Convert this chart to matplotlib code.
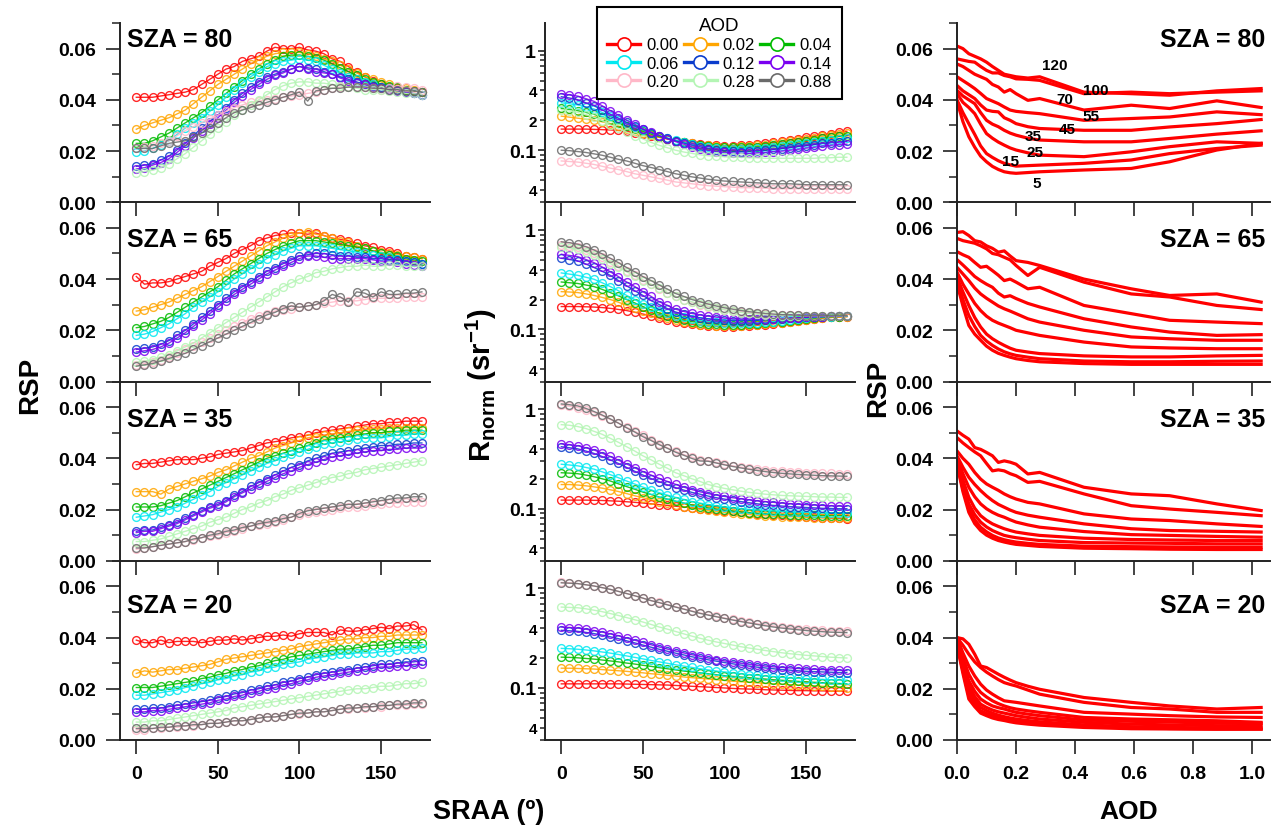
import numpy as np
import matplotlib
matplotlib.use("Agg")
import matplotlib.pyplot as plt
from matplotlib.lines import Line2D
from matplotlib.ticker import FixedLocator, FixedFormatter, FormatStrFormatter

plt.rcParams['font.family'] = ['Liberation Sans', 'DejaVu Sans']
plt.rcParams['font.weight'] = 'bold'
plt.rcParams['mathtext.fontset'] = 'custom'
plt.rcParams['mathtext.rm'] = 'Liberation Sans:bold'
plt.rcParams['mathtext.bf'] = 'Liberation Sans:bold'
plt.rcParams['mathtext.it'] = 'Liberation Sans:bold'

SZA = [80, 65, 35, 20]
AOD_LABELS = ["0.00", "0.02", "0.04", "0.06", "0.12", "0.14", "0.20", "0.28", "0.88"]
COLORS = ["#ff0000", "#ffa500", "#00bb00", "#00e8f0", "#0a3ccc",
          "#7a00f0", "#ffb8c8", "#b4f5b4", "#6a6a6a"]
SRAA = list(range(0, 180, 5))
AOD_GRID = [0, 0.02, 0.04, 0.06, 0.08, 0.10, 0.12, 0.14, 0.16, 0.18, 0.20,
            0.24, 0.28, 0.43, 0.59, 0.72, 0.88, 1.03]
SRAA_LINES = ["120", "100", "70", "55", "45", "35", "25", "15", "5"]

# RSP (x 1e-3) against SRAA, one row per AOD
RSP_80 = [
    [41, 41, 41, 41.5, 42, 42.5, 43, 44, 46, 48, 50, 52, 53, 55, 56, 57, 59, 60.5, 60, 60, 60.5, 59.5, 59, 58, 56, 55, 53, 51, 49, 47.5, 46, 45, 44.5, 44, 43.5, 43],
    [28.5, 30, 31, 32, 33, 34.5, 36, 38.5, 41, 43.5, 46, 48, 50, 52, 54, 55.5, 57, 58, 58.5, 58.5, 58.5, 58, 57, 56, 55, 53.5, 52, 50.5, 49, 48, 47, 46, 45, 44.5, 44, 43],
    [23, 23, 24, 25.5, 27, 29, 31, 33, 35, 37.5, 40, 42.5, 45, 47.5, 50, 52, 54, 55.5, 57, 57.5, 57.5, 57, 56.5, 55.5, 54, 52.5, 51, 49.5, 48, 47, 46, 45.5, 45, 44, 43.5, 43],
    [19.5, 20, 21, 22.5, 24, 26.5, 29, 31, 33, 35.5, 38, 41, 44, 46.5, 49, 51, 53, 54, 55, 55.5, 56, 55.5, 55, 53.5, 52, 50.5, 49, 48, 47, 46, 45, 44.5, 44, 43, 42.5, 42],
    [14, 14.5, 15, 16.5, 18, 20.5, 23, 26, 29, 31.5, 34, 37, 40, 42.5, 45, 47, 49, 50, 51, 52, 53, 52.5, 52, 51, 50, 49, 48, 47, 46, 45.5, 45, 44.5, 44, 43, 42.5, 42],
    [13, 13.5, 14.5, 15.5, 17, 19.5, 22, 25, 28, 30.5, 33, 36, 39, 41.5, 44, 46, 48, 49.5, 50.5, 52, 53, 52, 51, 50.5, 50, 48.5, 47.5, 46.5, 46, 45, 44.5, 44, 43.5, 43, 42.5, 42],
    [21, 21.5, 22, 23, 24, 26, 28, 29.5, 31, 32.5, 34, 35.5, 37, 38, 39, 39.5, 40, 40.5, 41, 41.5, 42, 42.5, 43, 44, 44.5, 45, 45, 45, 45, 44.5, 44, 44.5, 45.5, 45, 44.5, 44],
    [11.5, 12, 12.5, 13.5, 15, 17, 19, 21.5, 24, 26.5, 29, 31.5, 34, 36, 38, 40, 42, 44, 45.5, 46.5, 47, 47, 46.5, 46.5, 46, 45.5, 45, 44.5, 44, 44, 44, 43.5, 43, 42.5, 42.5, 42],
    [21, 21, 21, 22, 23, 23.5, 24, 25.5, 27, 29, 31, 33, 35, 36, 37, 38, 39, 40, 41, 42, 43, 39.5, 43.5, 44, 44.5, 44.5, 45, 45, 45, 44.5, 44.5, 44, 44, 43.5, 43.5, 43],
]
RSP_65 = [
    [41, 38, 38.5, 38.5, 39, 40, 41, 42, 43, 45, 46.5, 48, 50, 51.5, 53, 55, 56, 57, 57.5, 58, 58, 57.5, 58, 57, 56, 55.5, 55, 54, 53, 52.5, 51.5, 51, 50, 49, 48.5, 48],
    [27.5, 28, 29, 30, 31, 32.5, 34, 35.5, 37, 39, 41, 43, 45, 47, 49, 51, 53, 54.5, 56, 57, 58, 58.5, 57.5, 57, 56, 55, 54.5, 53, 52, 51, 50.5, 50, 49.5, 49, 48.5, 48],
    [21, 21.5, 22.5, 23.5, 25, 27, 29, 31, 33, 35, 37, 39.5, 42, 44, 46, 48, 50, 51.5, 53, 54, 55, 55, 55, 54.5, 54, 53.5, 53, 52.5, 52, 51, 50, 49.5, 49, 48, 47.5, 47],
    [18, 18.5, 19.5, 21, 22.5, 24.5, 26.5, 29, 31, 33, 35, 37.5, 40, 42, 44, 46, 48, 49.5, 51, 52, 53, 53, 53, 52.5, 52, 51.5, 51, 50.5, 50, 49.5, 49, 48.5, 48, 47, 46.5, 46],
    [12.5, 13, 13.5, 14.5, 16, 18, 20, 22.5, 25, 27.5, 30, 32.5, 35, 37, 39, 41, 43, 44.5, 46, 47.5, 49, 49.5, 50, 50, 49.5, 49, 49, 48.5, 48.5, 48, 48, 47.5, 47.5, 47, 46.5, 46],
    [11.5, 12, 12.5, 13.5, 15, 17, 19, 21.5, 24, 26.5, 29, 31.5, 34, 36, 38, 40, 42, 43.5, 45, 46.5, 48, 49, 49, 48.5, 48, 48, 48, 48, 48, 47.5, 47, 47, 46.5, 46, 45.5, 45],
    [6.5, 7, 7.5, 8.5, 9.5, 11, 12.5, 14, 15.5, 17, 18.5, 20, 21.5, 23, 24.5, 25.5, 26.5, 27.5, 28, 28.5, 29, 29.5, 30, 30.5, 31, 31.5, 31.5, 31.5, 32, 32.5, 32.5, 32.5, 32.5, 33, 33, 33],
    [7.5, 8, 8.5, 9.5, 10.5, 12, 13.5, 15, 17, 19, 21, 23, 25, 27, 29, 31, 33, 35, 37, 38.5, 40, 41, 42.5, 43, 44, 44.5, 45, 45, 45.5, 45, 45, 45.5, 45.5, 45, 45, 45],
    [6, 6.5, 7, 8, 9, 10, 11, 12.5, 14, 15.5, 17, 18.5, 20, 21.5, 23, 24.5, 26, 27, 28.5, 29.5, 29, 29.5, 30, 31.5, 34, 33, 31, 35, 34.5, 33, 35, 34, 34, 34.5, 34.5, 35],
]
RSP_35 = [
    [37.5, 38, 38, 38.5, 39, 39.5, 39.5, 39.5, 40, 40.5, 41.5, 42, 42.5, 43, 44, 45, 46, 46.5, 47, 48, 48.5, 49, 50, 50.5, 51, 51.5, 52, 52.5, 53, 53.5, 53.5, 54, 54, 54.5, 54.5, 54.5],
    [27, 27, 27, 26, 28, 29, 30, 31, 32, 33, 34.5, 35.5, 37, 38.5, 40, 41, 42.5, 44, 45, 46, 47, 48, 48.5, 49, 49.5, 50, 50.5, 51, 51, 51.5, 51.5, 52, 52, 52, 52, 52],
    [21, 21, 21, 21.5, 22.5, 23.5, 25, 26.5, 28, 29.5, 31, 32.5, 34, 35.5, 37, 38.5, 40, 41, 42, 43, 44, 45, 46, 47, 47.5, 48, 48.5, 49, 49.5, 50, 50, 50.5, 50.5, 51, 51, 51],
    [17, 17.5, 18, 19, 20, 21, 22.5, 24, 25.5, 27, 29, 30.5, 32, 33.5, 35, 36.5, 38, 39, 40.5, 41.5, 42.5, 43.5, 44.5, 45.5, 46, 46.5, 47, 47.5, 48, 48, 48, 48.5, 49, 49, 49.5, 49.5],
    [11.5, 12, 12, 13, 14, 15, 16.5, 18, 19.5, 21, 22, 23.5, 25.5, 27, 29, 30.5, 32, 33.5, 35, 36.5, 37.5, 39, 40, 41, 42, 42.5, 43, 43.5, 44, 44.5, 45, 45, 45.5, 45.5, 46, 46],
    [11, 11.5, 11.5, 12.5, 13.5, 14.5, 16, 17.5, 19, 20.5, 21.5, 23, 25, 26.5, 28, 29.5, 31, 32.5, 34, 35, 36.5, 37.5, 38.5, 39.5, 40.5, 41, 41.5, 42, 42.5, 43, 43, 43.5, 43.5, 44, 44, 44],
    [4.5, 5, 5.5, 6, 6.5, 7, 7.5, 8, 9, 9.5, 10, 11, 11.5, 12.5, 13.5, 14, 14.5, 15, 16, 17, 18, 18.5, 19, 19.5, 20, 20.5, 21, 21, 21.5, 22, 22, 22.5, 22.5, 23, 23, 23],
    [7.5, 7.5, 8, 8.5, 9.5, 10.5, 11.5, 12.5, 13.5, 15, 16, 17, 18.5, 20, 21, 22.5, 23.5, 25, 26, 27.5, 28.5, 29.5, 30.5, 31.5, 32.5, 33, 34, 34.5, 35.5, 36, 36.5, 37, 37.5, 38, 38.5, 39],
    [5, 5, 5.5, 6, 6.5, 7, 7.5, 8.5, 9, 10, 10.5, 11.5, 12, 13, 13.5, 14.5, 15, 15.5, 16.5, 17, 18.5, 19.5, 20, 20.5, 21, 21.5, 22, 22, 22.5, 23, 23.5, 24, 24.5, 24.5, 25, 25],
]
RSP_20 = [
    [39, 38, 38, 39, 38, 38.5, 38.5, 38.5, 38, 38.5, 39, 39, 39.5, 39, 39.5, 40, 40.5, 40.5, 41, 40.5, 41.5, 42, 42, 42, 41, 43, 42.5, 42.5, 43, 43.5, 44, 43.5, 44.5, 44.5, 45, 43],
    [26, 27, 26.5, 27, 27.5, 27.5, 28, 28.5, 29, 29.5, 30.5, 31.5, 32, 32.5, 33, 33.5, 34, 34.5, 35, 35.5, 36.5, 37, 37.5, 38, 38.5, 39, 39.5, 39.5, 40, 40, 40.5, 40.5, 41, 41, 41, 41],
    [20.5, 20.5, 20.5, 21, 21.5, 22, 22.5, 23, 24, 24.5, 25.5, 26, 27, 27.5, 28.5, 29, 30, 31, 31.5, 32.5, 33, 33.5, 34, 34.5, 35, 35.5, 35.5, 36, 36.5, 37, 37, 37.5, 38, 38, 38, 38],
    [17.5, 17.5, 18, 18.5, 19, 19.5, 20.5, 21, 22, 22.5, 23.5, 24, 25, 25.5, 26.5, 27, 28, 28.5, 29.5, 30, 30.5, 31.5, 32, 32.5, 33, 33.5, 33.5, 34, 34, 34, 34.5, 34.5, 35, 35.5, 35.5, 36],
    [12, 12, 12.5, 12.5, 13, 13.5, 14, 14.5, 15, 15.5, 16.5, 17, 18, 18.5, 19.5, 20, 21, 21.5, 22.5, 23, 24, 24.5, 25.5, 26, 26.5, 27, 27.5, 28, 28.5, 29, 29.5, 29.5, 30, 30.5, 30.5, 31],
    [11, 11, 11.5, 11.5, 12, 12.5, 13, 13.5, 14, 14.5, 15.5, 16, 17, 17.5, 18.5, 19, 20, 20.5, 21.5, 22, 23, 23.5, 24.5, 25, 25.5, 26, 26.5, 27, 27.5, 28, 28.5, 28.5, 29, 29, 29.5, 29.5],
    [4, 4, 4.5, 4.5, 5, 5, 5.5, 5.5, 6, 6.5, 6.5, 7, 7.5, 7.5, 8, 8.5, 9, 9, 9.5, 10, 10, 10.5, 11, 11, 11.5, 12, 12, 12.5, 12.5, 13, 13, 13.5, 13.5, 13.5, 14, 14],
    [7, 7, 7.5, 7.5, 8, 8.5, 9, 9.5, 10, 10.5, 11, 11.5, 12.5, 13, 13.5, 14, 14.5, 15, 15.5, 16, 16.5, 17, 17.5, 18, 18.5, 19, 19.5, 20, 20, 20.5, 21, 21, 21.5, 22, 22, 22.5],
    [4.5, 4.5, 4.5, 5, 5, 5.5, 5.5, 6, 6, 6.5, 6.5, 7, 7.5, 7.5, 8, 8.5, 9, 9, 9.5, 10, 10.5, 10.5, 11, 11, 11.5, 12, 12.5, 12.5, 13, 13, 13.5, 13.5, 14, 14, 14.5, 14.5],
]

# normalised reflectance (x 1e-3 sr-1) against SRAA, one row per AOD
RN_80 = [
    [163, 163, 163, 163, 162, 161, 160, 158, 155, 150, 145, 140, 135, 130, 125, 121, 118, 115, 113, 112, 111, 111, 112, 113, 115, 117, 120, 123, 127, 131, 135, 139, 143, 147, 151, 155],
    [220, 215, 210, 205, 200, 193, 185, 175, 165, 157, 150, 142, 135, 130, 125, 121, 117, 114, 112, 110, 109, 109, 110, 111, 112, 114, 117, 120, 123, 126, 130, 134, 138, 141, 145, 148],
    [263, 257, 250, 240, 230, 215, 200, 187, 175, 165, 155, 145, 137, 131, 125, 120, 115, 112, 110, 108, 107, 107, 107, 108, 109, 111, 113, 115, 118, 121, 125, 128, 132, 135, 138, 140],
    [300, 293, 285, 273, 260, 240, 220, 202, 185, 172, 160, 150, 140, 133, 126, 120, 115, 111, 108, 106, 104, 103, 103, 104, 105, 106, 108, 110, 112, 115, 118, 121, 124, 127, 130, 132],
    [345, 335, 322, 300, 280, 255, 230, 210, 190, 175, 162, 150, 140, 132, 124, 118, 112, 108, 104, 101, 99, 98, 97, 98, 99, 100, 102, 104, 106, 109, 111, 114, 117, 119, 121, 123],
    [370, 360, 350, 330, 310, 280, 250, 225, 200, 182, 165, 152, 140, 130, 122, 115, 108, 104, 100, 97, 95, 94, 93, 93, 94, 95, 97, 98, 100, 102, 105, 107, 110, 112, 114, 115],
    [78, 77, 76, 74, 72, 69, 66, 64, 61, 58, 56, 54, 52, 50, 48, 47, 46, 45, 44, 43.5, 43, 42.5, 42, 42, 42, 41.5, 41, 41, 41, 41, 41, 41, 41, 41, 41, 41],
    [255, 248, 240, 228, 215, 198, 180, 166, 152, 140, 130, 120, 112, 106, 100, 96, 93, 90, 88, 87, 86, 85, 85, 84, 84, 83, 83, 83, 83, 83, 83, 83, 84, 84, 85, 85],
    [100, 99, 97, 95, 92, 89, 85, 81, 78, 74, 70, 67, 64, 61, 58, 56, 54, 52.5, 51, 50, 49, 48.5, 48, 47.5, 47, 46.5, 46, 46, 46, 45.5, 45, 45, 45, 45, 45, 45],
]
RN_65 = [
    [170, 170, 170, 169, 168, 166, 163, 159, 155, 149, 143, 137, 130, 125, 120, 116, 113, 111, 109, 108, 107, 107, 108, 109, 110, 112, 114, 116, 119, 121, 124, 127, 130, 132, 134, 135],
    [240, 238, 235, 228, 220, 210, 200, 188, 175, 165, 155, 145, 137, 130, 124, 119, 115, 112, 110, 109, 108, 108, 109, 110, 111, 113, 115, 117, 120, 122, 125, 127, 130, 132, 133, 134],
    [300, 295, 290, 280, 270, 253, 235, 218, 200, 185, 170, 157, 146, 137, 130, 124, 120, 117, 114, 113, 112, 112, 112, 113, 114, 116, 118, 120, 123, 125, 128, 130, 132, 134, 135, 136],
    [370, 360, 350, 335, 320, 295, 270, 245, 220, 200, 180, 167, 155, 146, 138, 132, 127, 123, 120, 118, 117, 116, 116, 116, 117, 118, 120, 122, 125, 127, 130, 132, 134, 135, 136, 137],
    [520, 505, 490, 455, 420, 385, 350, 310, 275, 245, 220, 195, 178, 162, 150, 142, 136, 131, 128, 126, 124, 123, 123, 123, 124, 125, 126, 128, 129, 131, 132, 134, 135, 136, 137, 138],
    [570, 555, 540, 505, 470, 425, 380, 340, 300, 270, 240, 215, 190, 175, 160, 152, 145, 140, 136, 133, 130, 128, 127, 127, 127, 127, 128, 129, 130, 131, 133, 134, 135, 136, 137, 138],
    [700, 685, 670, 630, 590, 535, 480, 435, 390, 350, 315, 285, 258, 235, 215, 200, 188, 178, 170, 164, 158, 153, 150, 147, 145, 143, 141, 140, 139, 139, 138, 138, 138, 138, 138, 138],
    [680, 660, 640, 600, 560, 510, 460, 420, 380, 345, 310, 285, 260, 235, 215, 200, 190, 180, 172, 165, 158, 153, 148, 145, 142, 140, 139, 138, 138, 138, 138, 138, 138, 138, 138, 138],
    [760, 745, 720, 680, 630, 575, 520, 470, 420, 380, 340, 310, 280, 255, 230, 215, 200, 190, 180, 172, 165, 160, 155, 151, 148, 145, 143, 141, 140, 139, 138, 138, 138, 138, 138, 138],
]
RN_35 = [
    [122, 122, 122, 122, 121.5, 121, 120, 119, 117.5, 116, 114, 112, 110, 108, 106, 104, 102, 100, 98.5, 97, 95.5, 94, 92.5, 91, 89.5, 88, 87, 86, 85, 84, 83, 82, 81.5, 80.5, 80, 79],
    [175, 175, 173, 170, 166, 161, 155, 149, 142, 135, 129, 123, 118, 113, 109, 105, 102, 99, 96, 94, 92, 90.5, 89, 87.5, 86, 85, 84, 83.5, 83, 82.5, 82, 81.5, 81, 81, 81, 81],
    [230, 228, 225, 218, 210, 200, 190, 178, 167, 157, 147, 139, 131, 125, 119, 114, 109, 105, 102, 99.5, 97, 95, 93, 91.5, 90, 89, 88, 87.5, 87, 86.5, 86, 85.5, 85, 85, 85, 85],
    [280, 275, 270, 260, 250, 235, 220, 205, 190, 177, 165, 155, 145, 137, 130, 124, 118, 114, 110, 107, 104, 102, 100, 98.5, 97, 96, 95, 94, 93, 92.5, 92, 91.5, 91, 91, 91, 91],
    [420, 410, 400, 380, 360, 335, 310, 285, 260, 238, 218, 201, 187, 174, 163, 154, 146, 140, 134, 129, 125, 121, 118, 115, 112, 110, 108, 106.5, 105, 104, 103, 102, 101, 100.5, 100, 100],
    [450, 440, 430, 410, 390, 362, 335, 308, 282, 258, 236, 218, 202, 188, 176, 165, 156, 148, 142, 137, 133, 129, 126, 123, 120, 118, 116, 114, 112.5, 111, 110, 109, 108, 107, 106.5, 106],
    [1100, 1070, 1040, 990, 930, 860, 790, 725, 660, 600, 545, 495, 450, 410, 380, 350, 330, 310, 305, 292, 280, 270, 262, 255, 249, 244, 240, 237, 234, 232, 230, 228, 227, 226, 225, 225],
    [700, 690, 670, 640, 600, 560, 510, 465, 420, 380, 340, 310, 280, 255, 230, 215, 200, 188, 175, 167, 160, 155, 150, 146, 143, 140, 138, 136, 135, 134, 133, 132, 131, 131, 130, 130],
    [1130, 1110, 1080, 1020, 950, 875, 800, 725, 650, 590, 530, 485, 440, 405, 370, 345, 320, 302, 300, 288, 276, 266, 257, 249, 242, 236, 231, 227, 224, 221, 219, 217, 215, 214, 213, 212],
]
RN_20 = [
    [110, 110, 110, 110, 110, 110, 110, 110, 109.5, 109, 108.5, 108, 107.5, 107, 106, 105, 104, 103, 102, 101, 100, 99, 98, 97.5, 97, 96, 95.5, 95, 94.5, 94, 94, 93.5, 93.5, 93, 93, 93],
    [158, 158, 157, 156, 155, 153, 151, 149, 147, 144, 142, 139, 137, 134, 132, 129, 127, 125, 123, 121, 119, 117, 115.5, 114, 112.5, 111, 110, 109, 108, 107, 106, 105, 104, 103, 102, 101],
    [204, 203, 201, 198, 195, 191, 187, 183, 178, 174, 169, 165, 160, 156, 152, 148, 145, 142, 139, 136, 133, 131, 129, 127, 125, 123, 121, 119.5, 118, 116.5, 115, 114, 113, 112, 111, 110],
    [250, 248, 245, 241, 236, 230, 224, 217, 210, 203, 196, 189, 183, 177, 171, 166, 161, 156, 152, 148, 145, 142, 139, 136, 134, 132, 130, 128, 126, 125, 124, 123, 122, 121, 120, 120],
    [380, 376, 371, 362, 352, 340, 327, 313, 298, 284, 270, 257, 245, 234, 224, 215, 206, 199, 192, 186, 180, 175, 170, 166, 162, 159, 156, 153, 151, 149, 147, 146, 145, 144, 143, 143],
    [410, 405, 400, 390, 378, 365, 350, 335, 318, 302, 287, 272, 258, 246, 235, 225, 216, 208, 200, 193, 187, 182, 177, 173, 169, 166, 163, 161, 159, 157, 155, 154, 153, 152, 151, 150],
    [1150, 1140, 1120, 1090, 1060, 1020, 980, 935, 890, 845, 800, 755, 725, 690, 655, 625, 595, 568, 545, 525, 505, 488, 472, 457, 443, 431, 420, 411, 403, 396, 390, 385, 381, 378, 376, 375],
    [650, 645, 640, 625, 605, 585, 560, 535, 510, 485, 460, 435, 410, 390, 370, 350, 332, 316, 302, 290, 280, 270, 260, 252, 245, 238, 232, 226, 221, 217, 213, 210, 207, 204, 202, 200],
    [1140, 1130, 1120, 1090, 1060, 1020, 980, 935, 890, 845, 800, 755, 720, 685, 650, 620, 590, 562, 540, 520, 500, 482, 465, 450, 435, 422, 410, 400, 392, 385, 378, 372, 368, 364, 362, 360],
]

# RSP (x 1e-3) against AOD, one row per SRAA line
RA_80 = [
    [61, 60, 58, 57, 56, 54.7, 53, 51.5, 50, 49.5, 49, 48.5, 49, 43, 42.4, 41.8, 43.5, 44.4],
    [56, 55.5, 55, 54.7, 53, 51.5, 50.5, 50.5, 49.5, 49, 48.2, 48, 47.6, 42.4, 43, 42.4, 43, 43.5],
    [54, 53, 51.5, 50, 49, 48, 46, 45, 43, 44, 42.4, 39.8, 40.5, 36, 37.9, 36.6, 39.6, 37],
    [49, 47.5, 46, 44.4, 42.5, 40.5, 39.5, 38.5, 37.2, 36, 35.5, 35, 34.6, 32, 32.7, 33.3, 35.3, 34.2],
    [45.6, 43.5, 42, 40.5, 38, 36, 35.5, 35.3, 33, 32, 30.7, 29.5, 28.8, 28.1, 28.1, 29.4, 30.7, 32.3],
    [43.7, 41.5, 40, 38.5, 35, 32, 30.5, 29.5, 28.1, 27, 26.2, 25, 24.3, 23.6, 23.6, 24.9, 26.6, 27.9],
    [42.4, 39, 37, 34.6, 30.5, 26.8, 25, 23.5, 22.3, 21.2, 20.4, 19.3, 18.4, 17.8, 19.7, 21.7, 23.6, 23],
    [40, 35, 30.7, 26.5, 22, 19, 17.5, 16.2, 15.2, 14.6, 14.1, 14.3, 14.5, 15.2, 16.5, 19, 21, 22.3],
    [39.5, 31.5, 25.6, 21.5, 18, 15.8, 14, 12.8, 11.9, 11.5, 11.3, 11.6, 11.9, 12.6, 13.2, 15.8, 20.4, 23],
]
RA_65 = [
    [58.2, 58.5, 57, 55, 54.5, 53, 52, 50.5, 51, 49, 47.2, 46.5, 45.3, 40, 36.2, 33.6, 34.2, 31],
    [55.9, 55, 54.5, 54, 53, 51.8, 50, 49.5, 48.5, 47.5, 45.3, 41.4, 44.6, 38.8, 34.2, 33, 29.7, 28.1],
    [50.7, 49.5, 48.5, 46.5, 44.6, 45, 43.3, 41.5, 39.4, 40, 38.8, 36.2, 36.8, 29.7, 26.5, 23.9, 23.2, 22.6],
    [47.6, 45.5, 43.3, 41, 39.4, 38, 36.8, 34.5, 33, 33.5, 32.4, 30.5, 29.1, 24.5, 21.3, 19.3, 18, 18.3],
    [44.6, 42, 39.4, 36.5, 34.2, 32.5, 31, 29.5, 28.4, 27.5, 26.5, 24.5, 23.2, 20, 17.4, 16.7, 16.1, 16.1],
    [42.7, 38, 34.2, 30.5, 27.7, 25.5, 23.9, 22.8, 21.9, 21, 20, 19, 18, 15.4, 13.5, 13.1, 12.8, 12.8],
    [40.7, 35, 29.7, 25, 21.3, 18.5, 16.7, 15.3, 14.1, 13, 12.2, 11.5, 10.9, 10, 9.6, 9.6, 10, 10.2],
    [39.4, 32, 25.8, 21.5, 18, 15.8, 14.1, 12.7, 11.6, 10.8, 10.2, 9.5, 8.9, 8, 7.7, 7.7, 7.9, 8],
    [38.1, 29.5, 21.9, 18.5, 16.1, 13.8, 12.2, 11, 10.2, 9.5, 8.9, 8.2, 7.7, 7, 6.7, 6.7, 6.7, 6.7],
]
RA_35 = [
    [50.7, 49, 47.5, 44.2, 43.5, 42.3, 41, 38.4, 39, 38.5, 37.7, 33.9, 34.5, 28.7, 26.1, 25.4, 22.2, 19.6],
    [48.1, 46, 44.2, 42.5, 41, 38, 35.1, 35.5, 35.1, 34, 33.2, 30.6, 31, 26.1, 21.5, 20.2, 18.9, 17.6],
    [42.9, 40, 37.7, 34.5, 31.9, 30, 28.7, 27.5, 26.1, 25, 24.1, 22.8, 22.2, 18.3, 16.3, 15.7, 14.4, 13.4],
    [41, 36.5, 32.6, 29.8, 27.4, 25.3, 23.5, 22, 20.9, 19.8, 18.9, 17.8, 17, 14.4, 12.5, 11.8, 11.5, 11.2],
    [40, 34, 28.7, 25, 22.2, 20.3, 18.9, 17.8, 17, 16, 15.1, 14, 13.1, 11.4, 10.2, 9.9, 9.5, 9.2],
    [39, 31.5, 24.8, 20.5, 17.6, 15.8, 14.4, 13.4, 12.5, 11.8, 11.2, 10.5, 9.9, 8.8, 8.3, 8.1, 7.9, 7.9],
    [38.5, 29.5, 22.2, 18, 15.1, 13.2, 11.8, 10.8, 9.9, 9.4, 9, 8.4, 7.9, 7.1, 6.9, 6.8, 6.6, 6.6],
    [38, 28, 20.2, 16, 13.1, 11.3, 9.9, 8.9, 8.2, 7.7, 7.3, 6.8, 6.4, 5.7, 5.5, 5.4, 5.3, 5.3],
    [37.5, 27, 18.9, 14.5, 11.8, 10, 8.8, 7.9, 7.3, 6.8, 6.4, 6, 5.6, 4.9, 4.7, 4.5, 4.4, 4.4],
]
RA_20 = [
    [40, 39.5, 37.4, 33.5, 28.9, 28.3, 27, 25.7, 24.5, 23.4, 22.4, 21, 19.8, 16.6, 14.7, 13.3, 12.1, 12.7],
    [40, 37, 33.5, 30.5, 28.3, 26.5, 25, 23.6, 22.4, 21.7, 21.1, 19.5, 17.9, 14.7, 12.7, 12.1, 10.8, 10.8],
    [40, 34, 28.9, 25, 21.8, 19.5, 17.9, 16.5, 15.3, 15, 14.7, 14, 13.3, 10.8, 10.1, 9.5, 9, 8.8],
    [39.5, 32, 25.7, 21.5, 18.6, 16.8, 15.3, 14.2, 13.3, 12.6, 12.1, 11.4, 10.8, 8.8, 8.2, 7.9, 7.5, 6.9],
    [39, 30.5, 23.1, 19, 16, 14.5, 13.3, 12.6, 12.1, 11.4, 10.8, 10.1, 9.5, 7.8, 7.3, 7, 6.6, 6.4],
    [38.5, 29.5, 21.1, 17, 14, 12.7, 11.7, 11, 10.5, 10, 9.5, 8.8, 8.2, 6.9, 6.2, 5.9, 5.6, 5.6],
    [38, 28, 19.2, 15.5, 12.7, 11.5, 10.5, 9.7, 9.1, 8.6, 8.2, 7.6, 7.1, 5.9, 5.2, 4.9, 4.7, 4.7],
    [37.5, 27, 17.3, 14, 11.4, 10.4, 9.5, 8.8, 8.2, 7.7, 7.3, 6.7, 6.2, 5.3, 4.8, 4.5, 4.3, 4.3],
    [37, 26, 16, 13, 10.5, 9.5, 8.6, 8, 7.6, 7.1, 6.7, 6.2, 5.8, 4.9, 4.4, 4.3, 4.2, 4.2],
]

RSP_ALL = [RSP_80, RSP_65, RSP_35, RSP_20]
RN_ALL = [RN_80, RN_65, RN_35, RN_20]
RA_ALL = [RA_80, RA_65, RA_35, RA_20]

W, H = 1278, 829
ROW_H = 179.25
fig = plt.figure(figsize=(W / 100, H / 100), dpi=100)


def add_axes(x0, x1, row):
    top = 24 + ROW_H * row
    ax = fig.add_axes([x0 / W, 1 - (top + ROW_H) / H, (x1 - x0) / W, ROW_H / H])
    ax.patch.set_visible(False)
    for s in ("top", "right"):
        ax.spines[s].set_visible(False)
    for s in ("left", "bottom"):
        ax.spines[s].set_linewidth(1.4)
        ax.spines[s].set_color("#222222")
    ax.tick_params(which="major", direction="out", length=10, width=1.2,
                   labelsize=14, pad=7, color="#222222")
    ax.tick_params(which="minor", direction="out", length=6, width=1.1,
                   color="#222222")
    ax.tick_params(axis="x", which="major", pad=8)
    return ax


def rsp_yaxis(ax):
    ax.set_ylim(0, 0.07)
    ax.set_yticks([0, 0.02, 0.04, 0.06])
    ax.set_yticks([0.01, 0.03, 0.05, 0.07], minor=True)
    ax.yaxis.set_major_formatter(FormatStrFormatter("%.2f"))


sza_y = [0.0638, 0.0555, 0.0553, 0.0529]
label_pos = [(0.33, 0.0537), (0.47, 0.044), (0.365, 0.0405), (0.455, 0.0335),
             (0.375, 0.0288), (0.258, 0.026), (0.265, 0.0198), (0.18, 0.016),
             (0.27, 0.0074)]

for r in range(4):
    bottom = r == 3
    # left column: RSP vs SRAA
    ax = add_axes(120, 430, r)
    for i, c in enumerate(COLORS):
        ax.plot(SRAA, np.array(RSP_ALL[r][i]) / 1000, color=c, lw=1.0,
                marker="o", ms=5.6, mfc="none", mec=c, mew=1.0, alpha=0.85)
    ax.set_xlim(-10, 180)
    ax.set_xticks([0, 50, 100, 150])
    ax.tick_params(labelbottom=bottom)
    rsp_yaxis(ax)
    ax.text(-6, sza_y[r], f"SZA = {SZA[r]}", fontsize=18, fontweight="bold",
            va="center", ha="left")

    # middle column: Rnorm vs SRAA, log scale
    ax = add_axes(545, 855, r)
    for i, c in enumerate(COLORS):
        ax.plot(SRAA, np.array(RN_ALL[r][i]) / 1000, color=c, lw=1.0,
                marker="o", ms=5.6, mfc="none", mec=c, mew=1.0, alpha=0.85)
    ax.set_yscale("log")
    ax.set_ylim(0.03, 1.9)
    ax.set_xlim(-10, 180)
    ax.set_xticks([0, 50, 100, 150])
    ax.tick_params(labelbottom=bottom)
    ax.yaxis.set_major_locator(FixedLocator([0.1, 1]))
    ax.yaxis.set_major_formatter(FixedFormatter(["0.1", "1"]))
    minors = [0.03, 0.04, 0.05, 0.06, 0.07, 0.08, 0.09,
              0.2, 0.3, 0.4, 0.5, 0.6, 0.7, 0.8, 0.9]
    mlabels = ["", "4", "", "", "", "", "", "2", "", "4", "", "", "", "", ""]
    ax.yaxis.set_minor_locator(FixedLocator(minors))
    ax.yaxis.set_minor_formatter(FixedFormatter(mlabels))
    ax.tick_params(axis="y", which="major", length=5, pad=1.5)
    ax.tick_params(axis="y", which="minor", length=3.5, labelsize=11, pad=2)

    # right column: RSP vs AOD
    ax = add_axes(957, 1270, r)
    for line in RA_ALL[r]:
        ax.plot(AOD_GRID, np.array(line) / 1000, color="#ff0000", lw=2.3,
                solid_joinstyle="round")
    ax.set_xlim(0, 1.06)
    ax.set_xticks([0, 0.2, 0.4, 0.6, 0.8, 1.0])
    ax.xaxis.set_major_formatter(FormatStrFormatter("%.1f"))
    ax.tick_params(labelbottom=bottom)
    rsp_yaxis(ax)
    ax.text(0.984, sza_y[r], f"SZA = {SZA[r]}", fontsize=18,
            fontweight="bold", va="center", ha="right",
            transform=ax.get_yaxis_transform())
    if r == 0:
        for lab, (x, y) in zip(SRAA_LINES, label_pos):
            ax.text(x, y, lab, fontsize=11, fontweight="bold",
                    ha="center", va="center")

# axis titles
fig.text(30 / W, 1 - 385 / H, "RSP", rotation=90, fontsize=20,
         fontweight="bold", ha="center", va="center")
fig.text(878 / W, 1 - 388 / H, "RSP", rotation=90, fontsize=20,
         fontweight="bold", ha="center", va="center")
fig.text(481 / W, 1 - 385 / H, r"$\mathbf{R_{norm}\ (sr^{-1})}$", rotation=90,
         fontsize=21, ha="center", va="center")
fig.text(489 / W, 1 - 812 / H, "SRAA (º)", fontsize=19.5, fontweight="bold",
         ha="center", va="center")
fig.text(1129 / W, 1 - 812 / H, "AOD", fontsize=19, fontweight="bold",
         ha="center", va="center")

# legend, filled row by row
handles = [Line2D([], [], color=c, lw=2.4, marker="o", ms=9.5, mfc="white",
                  mec=c, mew=1.2) for c in COLORS]
order = [0, 3, 6, 1, 4, 7, 2, 5, 8]
leg = fig.legend([handles[i] for i in order], [AOD_LABELS[i] for i in order],
                 ncol=3, title="AOD", loc="upper left",
                 bbox_to_anchor=(597 / W, 1 - 8 / H),
                 prop={"size": 12, "weight": "normal"},
                 title_fontproperties={"size": 13.5, "weight": "normal"},
                 frameon=True, fancybox=False, edgecolor="black",
                 framealpha=1, handlelength=2.0, handletextpad=0.35,
                 columnspacing=0.3, labelspacing=0.2, borderpad=0.6,
                 borderaxespad=0)
leg.get_frame().set_linewidth(1.5)

fig.savefig("out.png", dpi=100)
